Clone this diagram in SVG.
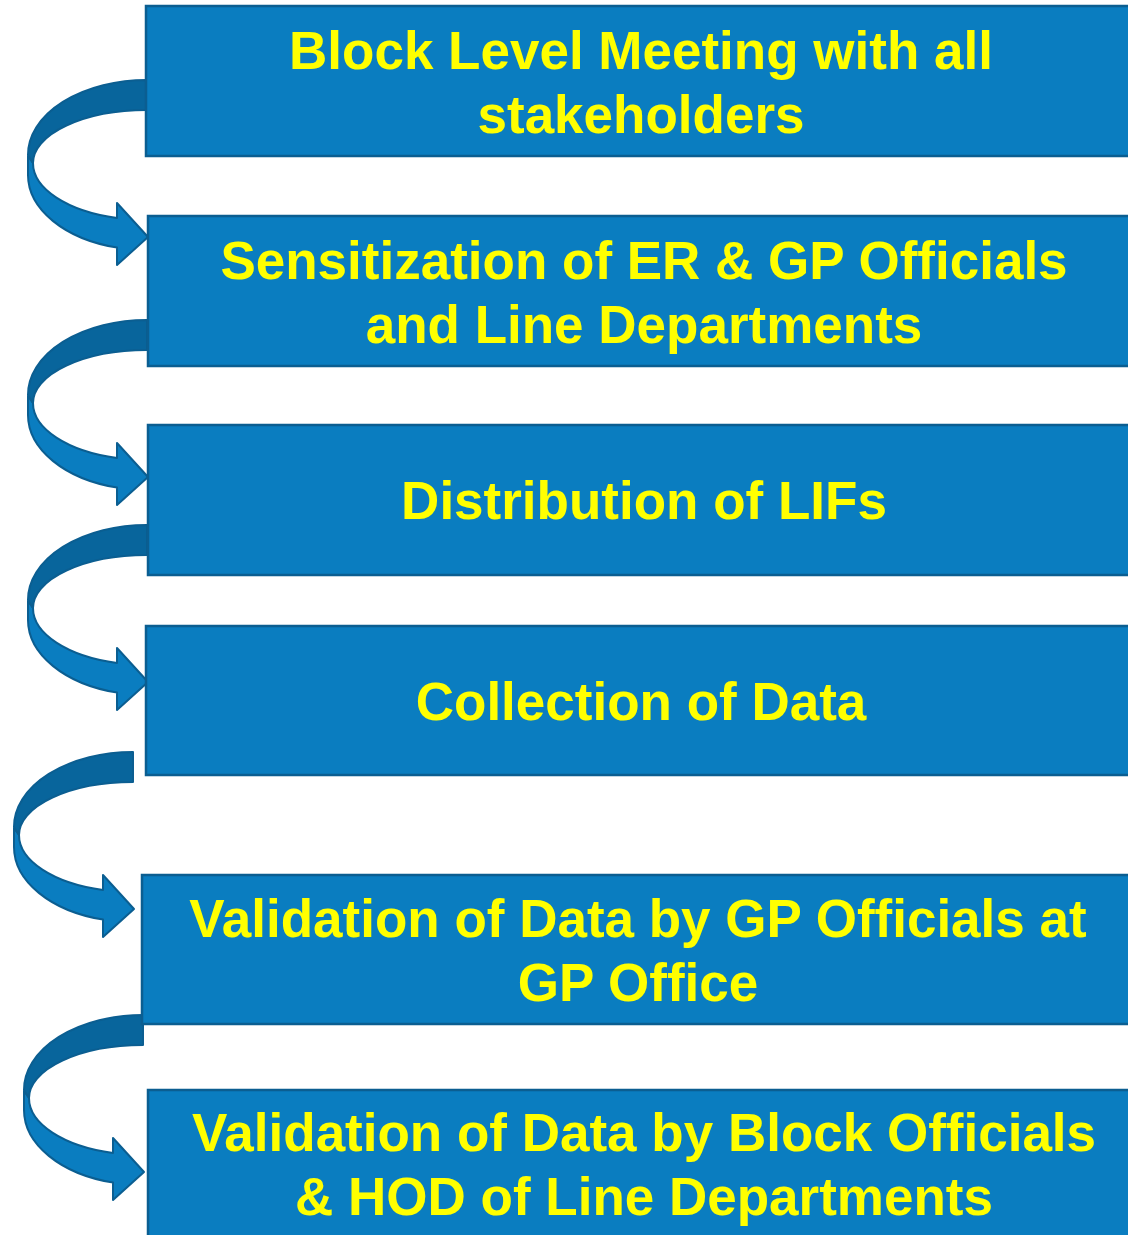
<svg xmlns="http://www.w3.org/2000/svg" xmlns:xlink="http://www.w3.org/1999/xlink" width="1128" height="1235" viewBox="0 0 1128 1235">
<style>
.box{fill:#0A7DC0;stroke:#0B5E91;stroke-width:2.5}
.lbl{font-family:"Liberation Sans",Arial,sans-serif;font-weight:bold;font-size:53px;fill:#FFFF00;text-anchor:middle}
.light{fill:#0A7DC0;stroke:#0B5E91;stroke-width:2;stroke-linejoin:round}
.dark{fill:#08659C;stroke:#0B5E91;stroke-width:2;stroke-linejoin:round}
</style>
<defs>
<g id="curvedArrow">
<path class="light" d="M-119,76 L-119,95 A119,75 0 0 0 -30,167.6 L-30,185 L1,157 L-30,123 L-30,138 A114,57 0 0 1 -114,83 Z"/>
<path class="dark" d="M0,0 A119,75 0 0 0 -119,75 L-114,83 A114,53 0 0 1 0,30 Z"/>
</g>
</defs>
<g id="connectors">
<use xlink:href="#curvedArrow" transform="translate(147,80)"/>
<use xlink:href="#curvedArrow" transform="translate(147,320)"/>
<use xlink:href="#curvedArrow" transform="translate(147,525)"/>
<use xlink:href="#curvedArrow" transform="translate(133,752)"/>
<use xlink:href="#curvedArrow" transform="translate(143,1015)"/>
</g>
<g id="node1">
<rect class="box" x="146" y="6" width="992" height="150"/>
<text class="lbl" x="641" y="69">Block Level Meeting with all</text>
<text class="lbl" x="641" y="133">stakeholders</text>
</g>
<g id="node2">
<rect class="box" x="148" y="216" width="992" height="150"/>
<text class="lbl" x="644" y="279">Sensitization of ER &amp; GP Officials</text>
<text class="lbl" x="644" y="343">and Line Departments</text>
</g>
<g id="node3">
<rect class="box" x="148" y="425" width="992" height="150"/>
<text class="lbl" x="644" y="519">Distribution of LIFs</text>
</g>
<g id="node4">
<rect class="box" x="146" y="626" width="992" height="149"/>
<text class="lbl" x="641" y="720">Collection of Data</text>
</g>
<g id="node5">
<rect class="box" x="142" y="875" width="992" height="149"/>
<text class="lbl" x="638" y="937">Validation of Data by GP Officials at</text>
<text class="lbl" x="638" y="1001">GP Office</text>
</g>
<g id="node6">
<rect class="box" x="148" y="1090" width="992" height="150"/>
<text class="lbl" x="644" y="1151">Validation of Data by Block Officials</text>
<text class="lbl" x="644" y="1215">&amp; HOD of Line Departments</text>
</g>
</svg>
